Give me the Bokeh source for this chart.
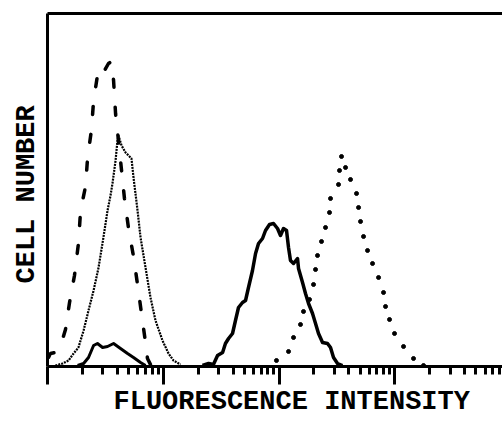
from bokeh.plotting import figure
from bokeh.models import Range1d, LinearAxis, FixedTicker, Title
from bokeh.embed import file_html
from bokeh.resources import INLINE

# ---- data (fluorescence intensity, log scale; cell counts) ----
dashed_x = [1.02, 1.06, 1.17, 1.30, 1.43, 1.55, 1.71, 1.85, 1.93, 2.13, 2.22, 2.40, 2.50, 2.70,
            2.87, 3.11, 3.36, 3.57, 3.72, 3.87, 4.10, 4.36, 4.62, 5.01, 5.53, 5.99, 6.48, 7.02,
            7.30, 7.75]
dashed_y = [9, 13, 14, 21, 37, 64, 91, 123, 156, 180, 209, 237, 266, 291,
            300, 296, 303, 305, 286, 253, 226, 196, 168, 138, 110, 82, 53, 24,
            8, 2]

fine_x = [1.17, 1.35, 1.52, 1.68, 1.85, 2.05, 2.26, 2.50, 2.76, 3.04, 3.30, 3.50, 3.64, 3.87,
          4.02, 4.10, 4.36, 4.72, 5.01, 5.31, 5.53, 5.75, 5.99, 6.36, 7.02, 7.75, 8.56, 9.84,
          11.09, 12.25, 14.08]
fine_y = [1, 3, 6, 13, 19, 36, 56, 76, 99, 129, 156, 171, 183, 206,
          226, 231, 221, 214, 211, 208, 189, 173, 156, 129, 99, 69, 46, 26,
          13, 6, 2]

small_x = [1.82, 2.05, 2.26, 2.50, 2.70, 2.99, 3.30, 3.72, 4.27, 4.91, 5.53, 6.36, 7.02]
small_y = [1, 3, 9, 21, 23, 19, 20, 23, 18, 13, 9, 4, 1]

solid_x = [21.8, 24.6, 27.1, 29.4, 32.5, 34.4, 36.6, 39.6, 42.0, 44.6, 48.3, 51.3, 54.4, 58.9,
           62.6, 66.4, 71.9, 76.3, 82.6, 89.5, 96.9, 102.8, 109.1, 115.9, 120.6, 125.4, 133.2,
           144.2, 147.1, 159.3, 169.0, 179.5, 194.3, 206.3, 218.9, 237.1, 261.8, 277.9, 295.0,
           319.4, 352.7]
solid_y = [1, 3, 2, 11, 14, 23, 28, 33, 46, 59, 64, 66, 79, 96,
           113, 123, 128, 136, 142, 143, 138, 131, 138, 136, 119, 106, 103,
           108, 98, 84, 73, 63, 53, 43, 33, 24, 23, 19, 9,
           3, 1]

dot_x = [94.9, 120.6, 133.2, 153.0, 162.4, 183.0, 198.2, 206.3, 214.6, 232.3, 251.6, 272.4,
         277.9, 325.8, 332.3, 345.8, 374.5, 413.6, 466.1, 485.1, 504.7, 535.7, 580.0, 640.7,
         722.0, 797.4, 829.7, 898.4, 992.0, 1186.8, 1447.4, 1766.0]
dot_y = [6, 15, 29, 42, 55, 67, 82, 97, 111, 125, 139, 154,
         168, 182, 196, 210, 199, 187, 173, 159, 145, 130, 116, 103,
         89, 74, 60, 47, 33, 20, 8, 1]

major_ticks = [1, 10, 100, 1000]
minor_ticks = [2, 3, 4, 5, 6, 7, 8, 9,
               20, 30, 40, 50, 60, 70, 80, 90,
               200, 300, 400, 500, 600, 700, 800, 900,
               2000, 3000, 4000, 5000, 6000, 7000, 8000]

x_label = "FLUORESCENCE INTENSITY"
y_label = "CELL NUMBER"

FONT = "Liberation Mono"

p = figure(width=502, height=422, x_axis_type="log",
           x_range=Range1d(1, 8492), y_range=Range1d(0, 353),
           output_backend="svg", toolbar_location=None,
           min_border_left=47, min_border_right=0, min_border_top=13, min_border_bottom=56)
p.grid.visible = False
p.outline_line_color = None
p.background_fill_color = "white"
p.border_fill_color = "white"

# bottom log axis
xa = p.xaxis[0]
xa.ticker = FixedTicker(ticks=major_ticks, minor_ticks=minor_ticks)
xa.major_label_text_font_size = "1px"
xa.major_label_text_color = None
xa.major_label_standoff = 5
xa.axis_line_width = 3
xa.major_tick_line_width = 3
xa.minor_tick_line_width = 3
xa.major_tick_in = 0
xa.minor_tick_in = 0
xa.major_tick_out = 18
xa.minor_tick_out = 8
xa.axis_line_color = "black"
xa.major_tick_line_color = "black"
xa.minor_tick_line_color = "black"

# left axis: line only
ya = p.yaxis[0]
ya.ticker = FixedTicker(ticks=[0])
ya.major_label_text_font_size = "1px"
ya.major_label_text_color = None
ya.major_label_standoff = 0
ya.major_tick_in = 0
ya.major_tick_out = 0
ya.axis_line_width = 3
ya.axis_line_color = "black"
ya.major_tick_line_color = None
ya.minor_tick_line_color = None

# top border line
top = LinearAxis(ticker=FixedTicker(ticks=[0]), axis_line_width=3, axis_line_color="black",
                 major_label_text_font_size="1px", major_label_text_color=None,
                 major_label_standoff=0, major_tick_in=0, major_tick_out=0,
                 major_tick_line_color=None, minor_tick_line_color=None)
p.add_layout(top, "above")

# curves
p.line(dashed_x, dashed_y, line_color="black", line_width=3.5, line_dash="8 20", line_cap="round")
p.line(fine_x, fine_y, line_color="black", line_width=2.2, line_dash="2 1")
p.line(small_x, small_y, line_color="black", line_width=3, line_join="round")
p.line(solid_x, solid_y, line_color="black", line_width=3.5, line_join="round")
p.scatter(dot_x, dot_y, size=4, color="black")

# axis titles
p.add_layout(Title(text=x_label, align="left", offset=66, standoff=0,
                   text_font=FONT, text_font_size="27px", text_font_style="bold",
                   text_color="black"), "below")
p.add_layout(Title(text=y_label, align="left", offset=83, standoff=12,
                   text_font=FONT, text_font_size="27px", text_font_style="bold",
                   text_color="black"), "left")

open("out.html", "w").write(file_html(p, INLINE))
